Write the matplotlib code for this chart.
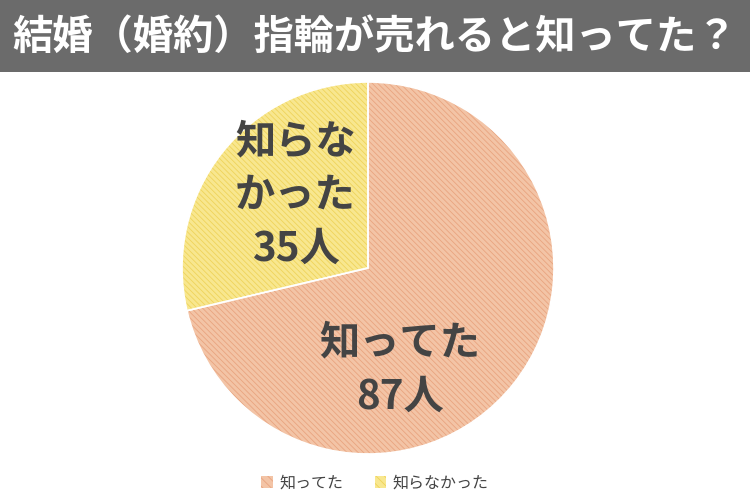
import matplotlib.pyplot as plt
from matplotlib.patches import Rectangle

plt.rcParams['font.family'] = ['Noto Sans CJK JP', 'DejaVu Sans']
plt.rcParams['hatch.linewidth'] = 0.6

title = '結婚（婚約）指輪が売れると知ってた？'
labels = ['知ってた', '知らなかった']
values = [87, 35]
slice_texts = ['知ってた\n87人', '知らな\nかった\n35人']
face_colors = ['#f3c4a6', '#f8e78f']
hatch_colors = ['#e9a47f', '#efd35a']

fig = plt.figure(figsize=(7.5, 5), dpi=100)
fig.patches.append(Rectangle((0, 1 - 72 / 500), 1, 72 / 500, transform=fig.transFigure,
                             facecolor='#6b6b6b', edgecolor='none', zorder=0))
fig.text(0.016, 1 - 37 / 500, title, color='white', fontsize=29, fontweight='bold',
         ha='left', va='center')

ax = fig.add_axes([(368 - 186) / 750, (232 - 186) / 500, 372 / 750, 372 / 500])

# face
wedges, _ = ax.pie(values, startangle=90, counterclock=False, colors=face_colors,
                   wedgeprops=dict(linewidth=0))
# hatch layer
wedges2, _ = ax.pie(values, startangle=90, counterclock=False,
                    wedgeprops=dict(linewidth=0, facecolor='none'))
for w, hc in zip(wedges2, hatch_colors):
    w.set_edgecolor(hc)
    w.set_hatch('\\\\\\\\\\\\')
# outline
wedges3, _ = ax.pie(values, startangle=90, counterclock=False,
                    wedgeprops=dict(linewidth=1.2, facecolor='none', edgecolor='white'))
ax.set_xlim(-1, 1)
ax.set_ylim(-1, 1)
ax.set_aspect('equal')

# slice labels
ax.text(0.17, -0.55, slice_texts[0], fontsize=29, fontweight='bold', color='#444444',
        ha='center', va='center', linespacing=1.4)
ax.text(-0.39, 0.39, slice_texts[1], fontsize=29, fontweight='bold', color='#444444',
        ha='center', va='center', linespacing=1.4)

# legend
handles = [Rectangle((0, 0), 1, 1, facecolor=face_colors[i], edgecolor=hatch_colors[i],
                     hatch='\\\\\\\\', linewidth=0) for i in range(2)]
fig.legend(handles, labels, loc='center', bbox_to_anchor=(0.5, 1 - 483 / 500), ncol=2,
           frameon=False, fontsize=11.5, handlelength=0.7, handleheight=0.7,
           handletextpad=0.4, columnspacing=2.0, labelcolor='#444444')

fig.savefig('out.png', dpi=100)
